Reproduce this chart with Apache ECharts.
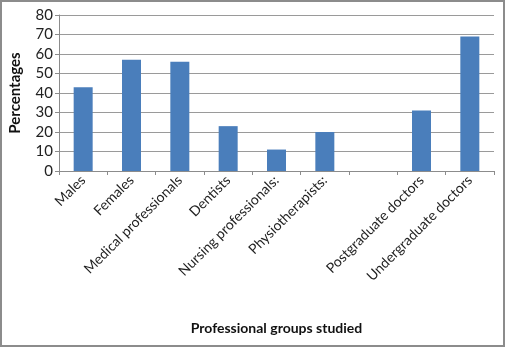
<!DOCTYPE html>
<html><head><meta charset="utf-8">
<script src="https://cdn.jsdelivr.net/npm/echarts@6/dist/echarts.min.js"></script>
<style>html,body{margin:0;padding:0;background:#fff}#c{width:505px;height:347px}</style>
</head><body><div id="c"></div>
<script>
const categories = ['Males','Females','Medical professionals','Dentists','Nursing professionals:','Physiotherapists:','','Postgraduate doctors','Undergraduate doctors'];
const values = [43, 57, 56, 23, 11, 20, null, 31, 69];
const yTicks = [0, 10, 20, 30, 40, 50, 60, 70, 80];

const chart = echarts.init(document.getElementById('c'), null, {renderer:'canvas'});
const font = 'Lato, "Open Sans", sans-serif';
chart.setOption({
  animation: false,
  graphic: [{type:'rect', shape:{x:1, y:1, width:503, height:345}, style:{fill:'none', stroke:'#8c8c8c', lineWidth:2}, silent:true}],
  grid: {left:55, right:11, top:15, bottom:176, containLabel:false},
  xAxis: {
    type:'category', data: categories,
    axisLine:{lineStyle:{color:'#8c8c8c', width:1}},
    axisTick:{show:true, length:4, lineStyle:{color:'#8c8c8c'}, alignWithLabel:false},
    axisLabel:{rotate:45, interval:0, color:'#222', fontSize:14, fontFamily:font, margin:7},
    name:'Professional groups studied', nameLocation:'middle', nameGap:150,
    nameTextStyle:{fontWeight:'bold', fontSize:14, color:'#111', fontFamily:font}
  },
  yAxis: {
    type:'value', min:yTicks[0], max:yTicks[yTicks.length-1], interval:10,
    axisLine:{show:true, lineStyle:{color:'#8c8c8c'}},
    axisTick:{show:true, length:4, lineStyle:{color:'#8c8c8c'}},
    splitLine:{lineStyle:{color:'#9a9a9a', width:1}},
    axisLabel:{color:'#222', fontSize:15, fontFamily:font, margin:6},
    name:'Percentages', nameLocation:'middle', nameGap:36, nameRotate:90,
    nameTextStyle:{fontWeight:'bold', fontSize:15, color:'#111', fontFamily:font}
  },
  series: [{type:'bar', data: values, barWidth:19, itemStyle:{color:'#4a7ebb'}}]
});
</script></body></html>
